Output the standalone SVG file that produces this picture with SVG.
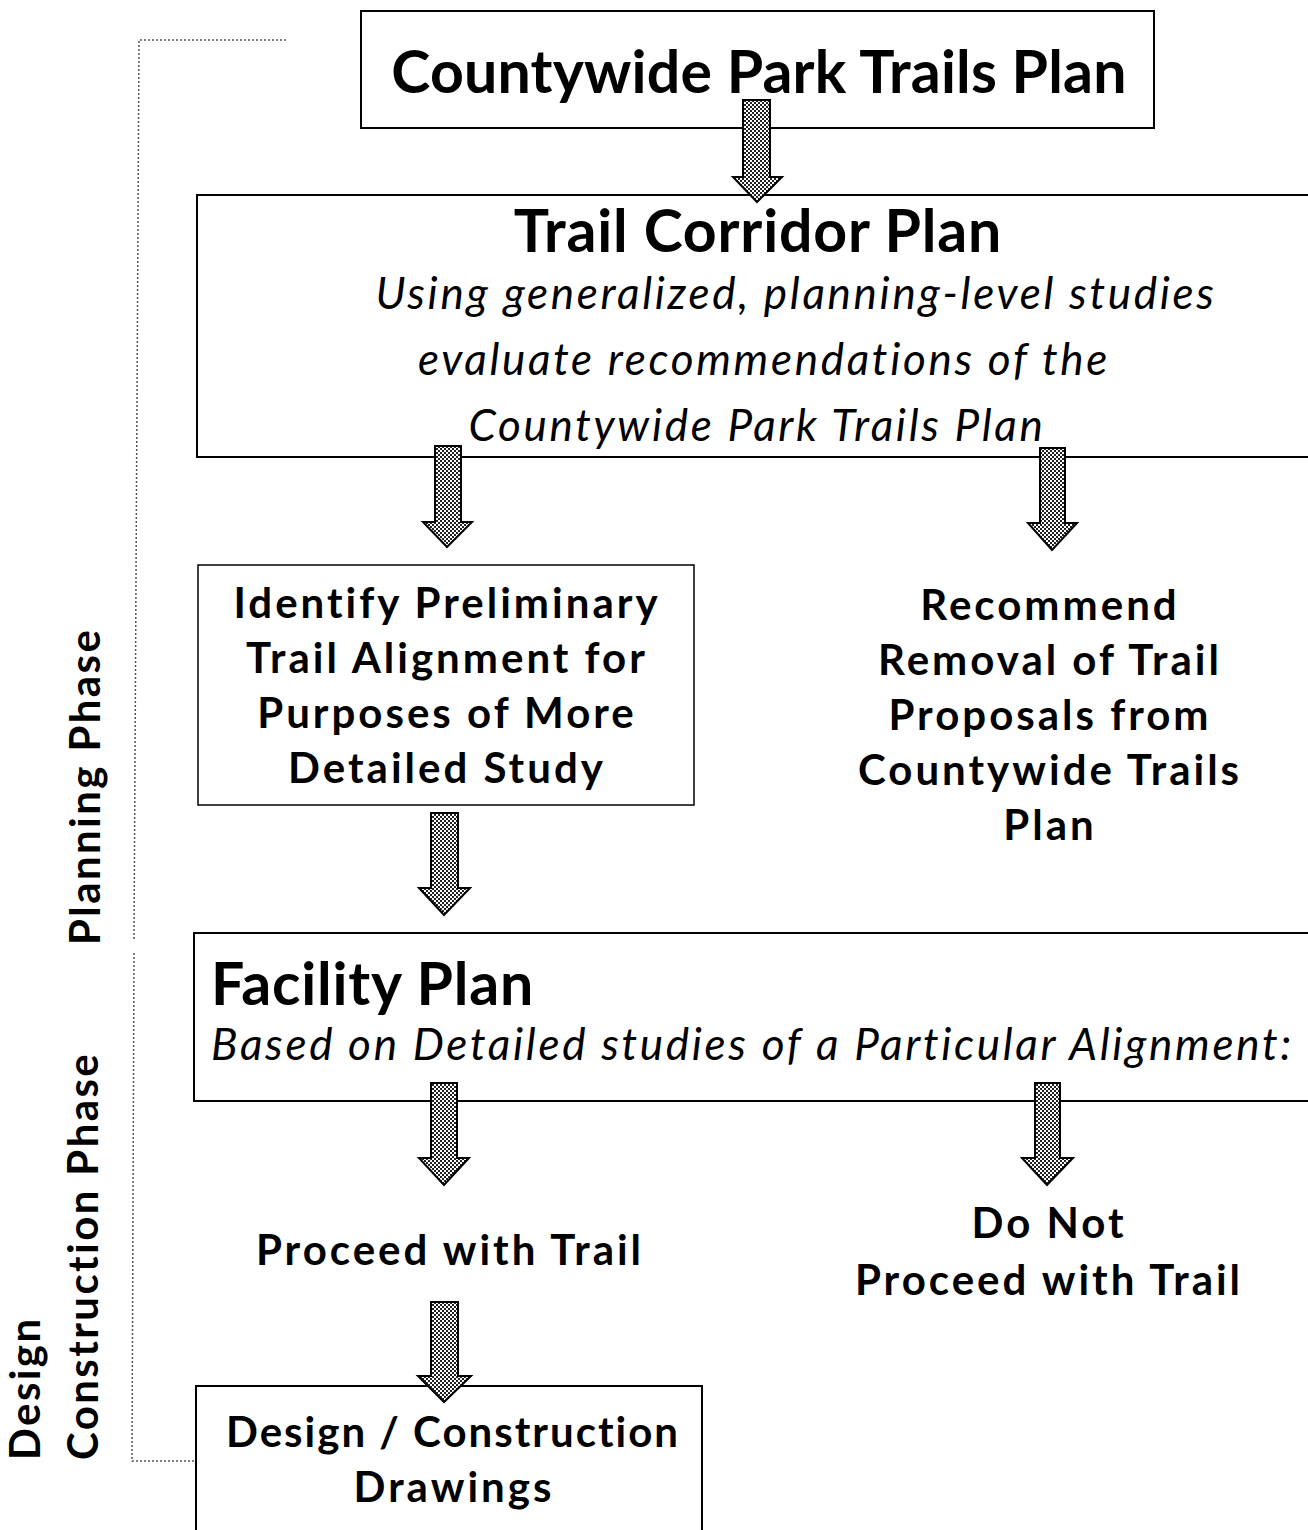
<svg xmlns="http://www.w3.org/2000/svg" width="1308" height="1530" viewBox="0 0 1308 1530">
<defs>
<pattern id="chk" width="4" height="4" patternUnits="userSpaceOnUse">
<rect width="4" height="4" fill="#fff"/>
<rect x="0" y="0" width="2" height="2" fill="#222"/>
<rect x="2" y="2" width="2" height="2" fill="#222"/>
</pattern>
</defs>
<style>
.box{fill:#fff;stroke:#000;stroke-width:2}
.arr{fill:url(#chk);stroke:#000;stroke-width:2;stroke-linejoin:miter}
.dot{fill:none;stroke:#555;stroke-width:1.5;stroke-dasharray:2 2}
.b{font-family:Lato,"DejaVu Sans",sans-serif;font-weight:bold;fill:#000}
.i{font-family:Lato,"DejaVu Sans",sans-serif;font-style:italic;fill:#000}
.h1{font-size:59px;letter-spacing:0.8px}
.h2{font-size:42px;letter-spacing:3px}
.sl{font-size:42px;letter-spacing:2.4px}
.it{font-size:44px;letter-spacing:2.7px}
</style>
<rect width="1308" height="1530" fill="#fff"/>

<g id="brackets">
<polyline class="dot" points="286,40 139,40 134,940"/>
<polyline class="dot" points="134,953 132,1461 195,1461"/>
</g>

<g id="side-labels">
<text class="b sl" transform="translate(100,945) rotate(-90)">Planning Phase</text>
<text class="b sl" transform="translate(98,1460) rotate(-90)">Construction Phase</text>
<text class="b sl" transform="translate(40,1460) rotate(-90)">Design</text>
</g>

<g id="n-countywide">
<rect class="box" x="361" y="11" width="793" height="117"/>
<text class="b h1" x="759" y="93" text-anchor="middle" style="letter-spacing:0.2px">Countywide Park Trails Plan</text>
</g>

<g id="n-corridor">
<rect class="box" x="197" y="195" width="1140" height="262"/>
<text class="b h1" x="758" y="252" text-anchor="middle">Trail Corridor Plan</text>
<text class="i it" x="796" y="309" text-anchor="middle">Using generalized, planning-level studies</text>
<text class="i it" x="764" y="375" text-anchor="middle">evaluate recommendations of the</text>
<text class="i it" x="757" y="441" text-anchor="middle">Countywide Park Trails Plan</text>
</g>

<g id="n-identify">
<rect class="box" x="198" y="565" width="496" height="240" style="stroke-width:1.5"/>
<text class="b h2" x="447" y="618" text-anchor="middle">Identify Preliminary</text>
<text class="b h2" x="447" y="673" text-anchor="middle">Trail Alignment for</text>
<text class="b h2" x="447" y="728" text-anchor="middle">Purposes of More</text>
<text class="b h2" x="447" y="783" text-anchor="middle">Detailed Study</text>
</g>

<g id="n-recommend">
<text class="b h2" x="1050" y="620" text-anchor="middle">Recommend</text>
<text class="b h2" x="1050" y="675" text-anchor="middle">Removal of Trail</text>
<text class="b h2" x="1050" y="730" text-anchor="middle">Proposals from</text>
<text class="b h2" x="1050" y="785" text-anchor="middle">Countywide Trails</text>
<text class="b h2" x="1050" y="840" text-anchor="middle">Plan</text>
</g>

<g id="n-facility">
<rect class="box" x="194" y="933" width="1140" height="168"/>
<text class="b h1" x="211" y="1005">Facility Plan</text>
<text class="i it" x="211" y="1060">Based on Detailed studies of a Particular Alignment:</text>
</g>

<g id="n-proceed">
<text class="b h2" x="450" y="1265" text-anchor="middle">Proceed with Trail</text>
</g>

<g id="n-donot">
<text class="b h2" x="1049" y="1238" text-anchor="middle">Do Not</text>
<text class="b h2" x="1049" y="1295" text-anchor="middle">Proceed with Trail</text>
</g>

<g id="n-design">
<rect class="box" x="196" y="1386" width="506" height="160"/>
<text class="b h2" x="453" y="1447" text-anchor="middle" style="letter-spacing:2px">Design / Construction</text>
<text class="b h2" x="454" y="1502" text-anchor="middle">Drawings</text>
</g>

<g id="connectors">
<path class="arr" d="M743,100 H770 V177 H782 L757,202 L733,177 H743 Z"/>
<path class="arr" d="M435,446 H461 V522 H472 L447,547 L423,522 H435 Z"/>
<path class="arr" d="M1040,448 H1065 V523 H1077 L1052,550 L1028,523 H1040 Z"/>
<path class="arr" d="M431,813 H458 V888 H470 L444,915 L419,888 H431 Z"/>
<path class="arr" d="M431,1083 H457 V1158 H469 L444,1185 L419,1158 H431 Z"/>
<path class="arr" d="M1035,1083 H1060 V1158 H1073 L1047,1185 L1022,1158 H1035 Z"/>
<path class="arr" d="M431,1302 H458 V1376 H471 L444,1402 L418,1376 H431 Z"/>
</g>
</svg>
